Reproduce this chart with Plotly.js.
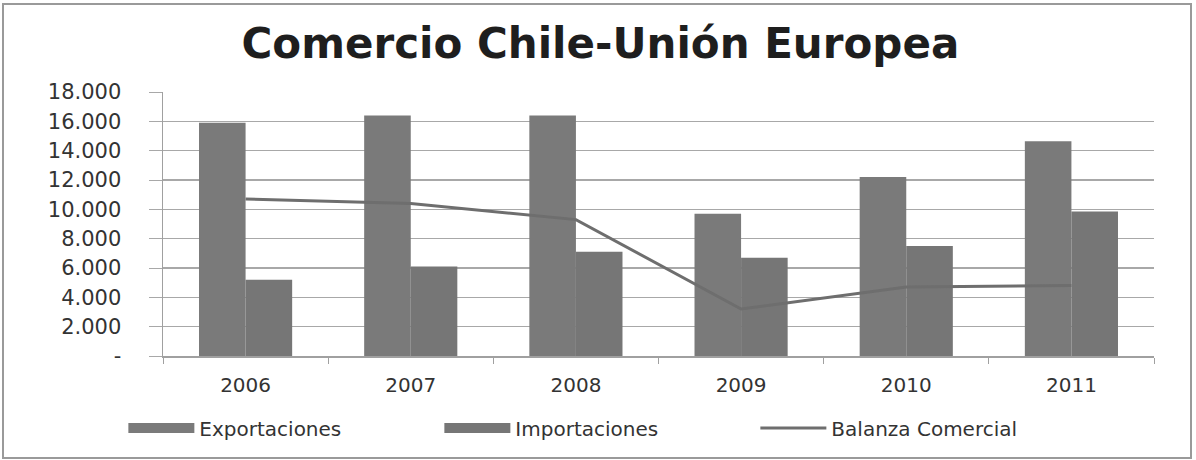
<!DOCTYPE html>
<html>
<head>
<meta charset="utf-8">
<script src="https://cdn.plot.ly/plotly-3.0.1.min.js"></script>
<style>
  html, body { margin: 0; padding: 0; background: #ffffff; }
  #wrap { position: relative; width: 1196px; height: 460px; }
  #chart { width: 1196px; height: 460px; }
  #frame { position: absolute; left: 2px; top: 3px; width: 1186px; height: 452px;
           border: 2px solid #9a9a9a; pointer-events: none; }
</style>
</head>
<body>
<div id="wrap">
  <div id="chart"></div>
  <div id="frame"></div>
</div>
<script>
const years = ['2006', '2007', '2008', '2009', '2010', '2011'];
const exportaciones = [15900, 16400, 16400, 9700, 12200, 14650];
const importaciones = [5200, 6100, 7100, 6700, 7500, 9850];
const balanza = [10700, 10400, 9300, 3200, 4700, 4800];
const yTickVals = [0, 2000, 4000, 6000, 8000, 10000, 12000, 14000, 16000, 18000];
const yTickText = ['-', '2.000', '4.000', '6.000', '8.000', '10.000', '12.000', '14.000', '16.000', '18.000'];

const FONT = '"DejaVu Sans", "Open Sans", sans-serif';
const EXP_COLOR = '#7a7a7a';
const IMP_COLOR = '#767676';
const BAL_COLOR = '#6e6e6e';

const traces = [
  { type: 'bar', name: 'Exportaciones', x: years, y: exportaciones, legendgroup: 'exp', showlegend: false,
    marker: { color: EXP_COLOR, line: { width: 0 } } },
  { type: 'bar', name: 'Importaciones', x: years, y: importaciones, legendgroup: 'imp', showlegend: false,
    marker: { color: IMP_COLOR, line: { width: 0 } } },
  { type: 'scatter', mode: 'lines', name: 'Balanza Comercial', x: years, y: balanza, legendgroup: 'bal',
    legendrank: 3, line: { color: BAL_COLOR, width: 3 } },
  // legend-only entries (no drawn data) giving the wide bar swatches of the original legend
  { type: 'scatter', mode: 'lines', name: 'Exportaciones', x: [years[0]], y: [null], legendgroup: 'exp',
    legendrank: 1, line: { color: EXP_COLOR, width: 13 }, hoverinfo: 'skip' },
  { type: 'scatter', mode: 'lines', name: 'Importaciones', x: [years[0]], y: [null], legendgroup: 'imp',
    legendrank: 2, line: { color: IMP_COLOR, width: 13 }, hoverinfo: 'skip' }
];

const layout = {
  width: 1196, height: 460,
  margin: { l: 163, r: 42, t: 92, b: 104 },
  paper_bgcolor: '#ffffff', plot_bgcolor: '#ffffff',
  font: { family: FONT, size: 19, color: '#333333' },
  title: { text: 'Comercio Chile-Unión Europea', x: 0.502, xanchor: 'center', y: 0.905, yanchor: 'middle',
           font: { family: FONT, size: 42, color: '#1e1e1e', weight: 'bold' } },
  barmode: 'group', bargap: 0.436, bargroupgap: 0,
  showlegend: true,
  legend: { orientation: 'h', x: -0.04, xanchor: 'left', y: -0.273, yanchor: 'middle',
            font: { family: FONT, size: 20, color: '#333333' }, traceorder: 'normal',
            itemwidth: 66, entrywidth: 235, entrywidthmode: 'pixels' },
  xaxis: { type: 'category', showgrid: false, showline: true, linecolor: '#a0a0a0', linewidth: 1.5,
           ticks: 'outside', tickcolor: '#a0a0a0', ticklen: 6, tickson: 'boundaries',
           tickfont: { family: FONT, size: 20, color: '#333333' }, ticklabelstandoff: 10 },
  yaxis: { range: [0, 18000], tickvals: yTickVals, ticktext: yTickText,
           showgrid: true, gridcolor: '#a8a8a8', gridwidth: 1.5,
           showline: true, linecolor: '#a0a0a0', linewidth: 1.5,
           ticks: 'outside', tickcolor: '#a8a8a8', ticklen: 13, zeroline: false,
           tickfont: { family: FONT, size: 21, color: '#333333' }, ticklabelstandoff: 23 }
};

Plotly.newPlot('chart', traces, layout, { displayModeBar: false, staticPlot: true });
</script>
</body>
</html>
